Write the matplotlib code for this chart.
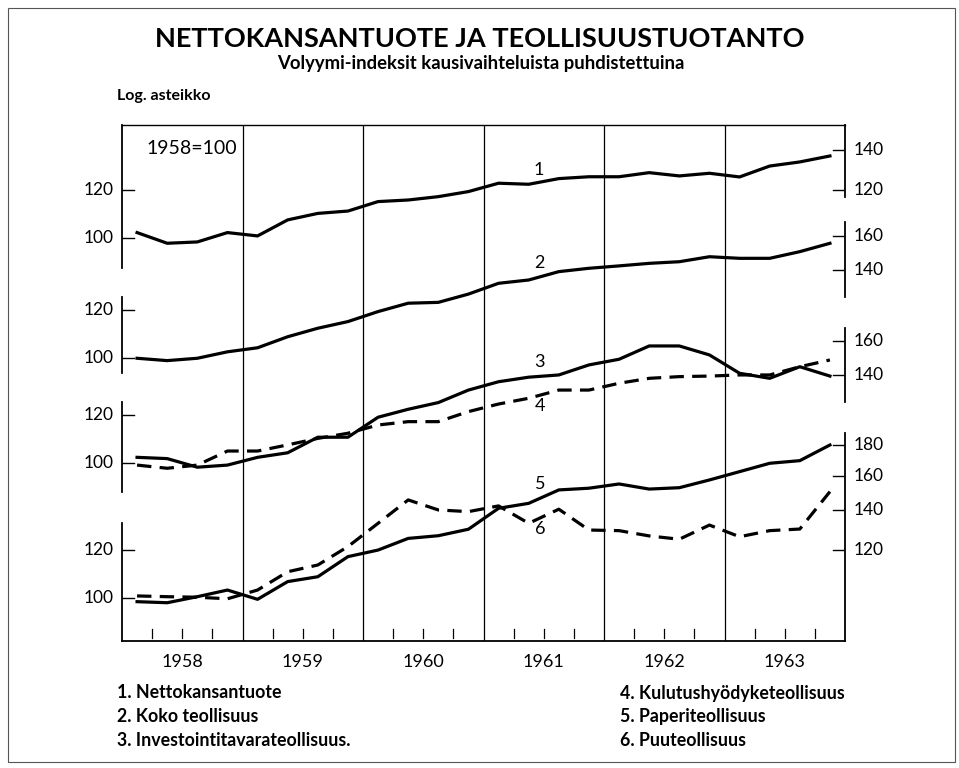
"""Nettokansantuote ja teollisuustuotanto 1958-1963, neljännesvuosittain (log. asteikko)."""
import matplotlib
matplotlib.use("Agg")
import matplotlib.pyplot as plt
import numpy as np

plt.rcParams["font.family"] = ["Lato", "DejaVu Sans"]

W, H = 959, 768

years = [1958, 1959, 1960, 1961, 1962, 1963]
quarters = np.array([y + (q + 0.5) / 4 for y in years for q in range(4)])

# 1958 = 100, kausivaihteluista puhdistetut volyymi-indeksit (luettu kuvasta)
nettokansantuote = [102.1, 98.0, 98.5, 102.1, 100.8, 107.2, 109.9, 110.9,
                    115.0, 115.7, 117.2, 119.5, 123.4, 122.9, 125.6, 126.5,
                    126.5, 128.5, 126.9, 128.2, 126.4, 131.8, 133.9, 137.0]
koko_teollisuus = [99.9, 99.0, 99.9, 102.4, 104.0, 108.5, 112.1, 115.0,
                   119.5, 123.4, 123.8, 127.8, 133.2, 134.9, 139.3, 141.1,
                   142.4, 143.8, 144.7, 147.5, 146.6, 146.6, 150.4, 155.3]
investointitavara = [102.2, 101.7, 98.4, 99.2, 102.2, 104.0, 110.4, 110.4,
                     119.2, 122.9, 126.1, 132.3, 136.6, 139.0, 140.2, 145.7,
                     148.9, 156.7, 156.7, 151.4, 141.1, 138.4, 144.7, 139.6]
kulutushyodyke = [99.2, 98.0, 99.2, 104.7, 104.7, 107.2, 109.9, 112.1,
                  115.7, 117.2, 117.2, 121.8, 125.4, 128.2, 132.3, 132.3,
                  135.8, 138.4, 139.3, 139.6, 140.2, 140.2, 144.7, 148.5]
paperi = [98.6, 98.2, 100.5, 103.1, 99.5, 106.5, 108.5, 117.2,
          120.2, 125.7, 127.0, 130.2, 141.1, 143.8, 151.4, 152.4,
          154.9, 151.9, 152.7, 157.3, 162.4, 167.7, 169.4, 179.9]
puu = [100.8, 100.5, 100.3, 99.7, 103.1, 110.6, 113.5, 121.8,
       133.2, 145.7, 140.2, 139.3, 142.4, 133.2, 140.6, 129.8,
       129.5, 126.9, 125.3, 132.3, 126.5, 129.5, 130.3, 150.4]

left_ticks = [[100, 120], [100, 120], [100, 120], [100, 120]]
right_ticks = [[120, 140], [140, 160], [140, 160], [120, 140, 160, 180]]
legend_left = ["1. Nettokansantuote", "2. Koko teollisuus", "3. Investointitavarateollisuus."]
legend_right = ["4. Kulutushyödyketeollisuus", "5. Paperiteollisuus", "6. Puuteollisuus"]

# layout: pixel positions of the original chart
AX_L, AX_R, AX_T, AX_B = 122, 845, 125, 641
PX_PER_DECADE = 600
base_px = [238, 358, 463, 598]          # pixel row of value 100 in each group
left_span = [(125, 268), (297, 373), (402, 492), (523, 641)]
right_span = [(125, 197), (222, 297), (328, 402), (433, 641)]


def ypos(v, g):
    return (AX_B - base_px[g]) / PX_PER_DECADE + np.log10(np.asarray(v) / 100)


def py(px):
    return (AX_B - px) / PX_PER_DECADE


def fx(px):
    return px / W


def fy(px):
    return 1 - px / H


fig = plt.figure(figsize=(W / 100, H / 100), dpi=100)
ax = fig.add_axes([fx(AX_L), fy(AX_B), (AX_R - AX_L) / W, (AX_B - AX_T) / H])
ax.set_xlim(1958, 1964)
ax.set_ylim(0, py(AX_T))
ax.set_xticks([])
ax.set_yticks([])
for side in ["left", "right"]:
    ax.spines[side].set_visible(False)
ax.spines["top"].set_linewidth(1.0)
ax.spines["bottom"].set_linewidth(1.3)

# year separators and quarter ticks
for y in years[1:]:
    ax.axvline(y, color="black", lw=0.9)
for y in years:
    for q in (0.25, 0.5, 0.75):
        ax.plot([y + q, y + q], [0.006, 0.024], transform=ax.get_xaxis_transform(),
                color="black", lw=0.9)

solid = dict(color="black", lw=2.3, solid_joinstyle="round")
dashed = dict(color="black", lw=2.3, ls=(0, (4.5, 2.6)))
ax.plot(quarters, ypos(nettokansantuote, 0), **solid)
ax.plot(quarters, ypos(koko_teollisuus, 1), **solid)
ax.plot(quarters, ypos(investointitavara, 2), **solid)
ax.plot(quarters, ypos(kulutushyodyke, 2), **dashed)
ax.plot(quarters, ypos(paperi, 3), **solid)
ax.plot(quarters, ypos(puu, 3), **dashed)

# group axes: segments, ticks and labels
ytr = ax.get_yaxis_transform()
tick_len = 12 / (AX_R - AX_L)
for g in range(4):
    a, b = left_span[g]
    ax.plot([0, 0], [py(b), py(a)], transform=ytr, color="black", lw=1.3, clip_on=False)
    a, b = right_span[g]
    ax.plot([1, 1], [py(b), py(a)], transform=ytr, color="black", lw=1.3, clip_on=False)
    for v in left_ticks[g]:
        yy = ypos(v, g)
        ax.plot([0, tick_len], [yy, yy], transform=ytr, color="black", lw=1.0)
        ax.text(-0.012, yy, f"{v}", transform=ytr, ha="right", va="center", fontsize=12.5)
    for v in right_ticks[g]:
        yy = ypos(v, g)
        ax.plot([1 - tick_len, 1], [yy, yy], transform=ytr, color="black", lw=1.0)
        ax.text(1.012, yy, f"{v}", transform=ytr, ha="left", va="center", fontsize=12.5)

for y in years:
    ax.text(y + 0.5, -0.04, str(y), transform=ax.get_xaxis_transform(),
            ha="center", va="center", fontsize=13)

# series numbers
for lab, (x, y) in zip("123456", [(539, 170), (539, 263), (539, 362), (540, 406),
                                   (540, 484), (540, 529)]):
    fig.text(fx(x), fy(y), lab, ha="center", va="center", fontsize=13)

fig.text(fx(192), fy(148), "1958=100", ha="center", va="center", fontsize=14)

fig.text(fx(480), fy(39), "NETTOKANSANTUOTE JA TEOLLISUUSTUOTANTO",
         ha="center", va="center", fontsize=19.5, fontweight="bold")
fig.text(fx(481), fy(64), "Volyymi-indeksit kausivaihteluista puhdistettuina",
         ha="center", va="center", fontsize=13.3, fontweight="bold")
fig.text(fx(117), fy(96), "Log. asteikko", ha="left", va="center", fontsize=11.5,
         fontweight="bold")

for i, (l, r) in enumerate(zip(legend_left, legend_right)):
    yy = 693 + i * 23.5
    fig.text(fx(117), fy(yy), l, ha="left", va="center", fontsize=12.8, fontweight="bold")
    fig.text(fx(620), fy(yy), r, ha="left", va="center", fontsize=12.8, fontweight="bold")

# scan border
fig.add_artist(plt.Rectangle((fx(8), fy(762)), fx(947), 754 / H, transform=fig.transFigure,
                             fill=False, ec="#555555", lw=0.8))

fig.savefig("out.png", dpi=100)
